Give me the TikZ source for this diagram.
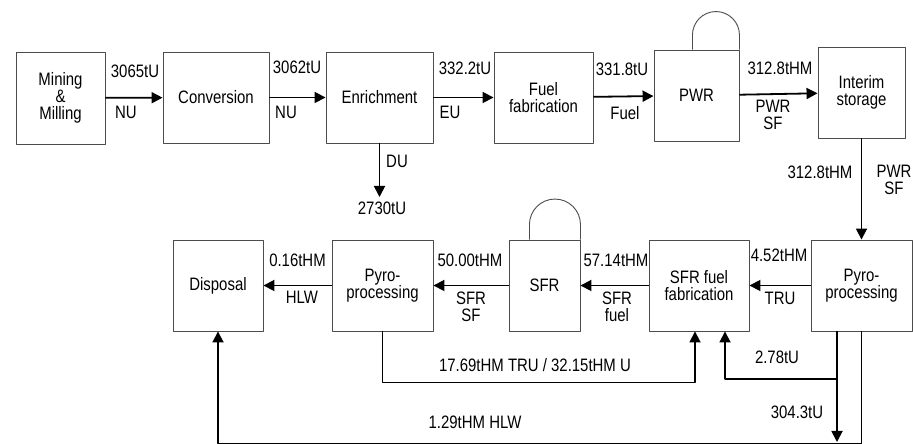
\documentclass[tikz,border=0pt]{standalone}
\usepackage{fontspec}
\setmainfont{Liberation Sans}[FakeStretch=0.83]
\usetikzlibrary{arrows.meta}

\tikzset{
  box/.style={draw=black!70,line width=0.9bp,inner sep=0pt,align=center},
  flow/.style={black,line width=1.8bp,-{Triangle[length=11bp,width=11bp]}},
  lbl/.style={draw=none,inner sep=0pt,align=center},
}

\begin{document}
\begin{tikzpicture}[line join=bevel,font=\fontsize{18bp}{17bp}\selectfont]
\useasboundingbox (0bp,0bp) rectangle (913bp,444bp);
%% front end
\node (node_mining) at (60.5bp,346bp) [box,minimum width=89bp,minimum height=92bp] {Mining\\\&\\Milling};
  \node (node_conv) at (216bp,346.5bp) [box,minimum width=106bp,minimum height=91bp] {Conversion};
  \node (node_enrich) at (379.5bp,346.5bp) [box,minimum width=107bp,minimum height=91bp] {Enrichment};
  \node (node_fuelfab) at (543.5bp,346.5bp) [box,minimum width=99bp,minimum height=91bp] {Fuel\\fabrication};
  \node (node_pwr) at (696.5bp,348.5bp) [box,minimum width=85bp,minimum height=91bp] {PWR};
  \node (node_interim) at (861.5bp,351.5bp) [box,minimum width=87bp,minimum height=91bp] {Interim\\storage};
%% back end
\node (node_disposal) at (218bp,158.5bp) [box,minimum width=90bp,minimum height=91bp] {Disposal};
  \node (node_pyroL) at (382.5bp,158.5bp) [box,minimum width=101bp,minimum height=91bp] {Pyro-\\processing};
  \node (node_sfr) at (544.5bp,158.5bp) [box,minimum width=71bp,minimum height=91bp] {SFR};
  \node (node_sfrfab) at (699bp,158.5bp) [box,minimum width=100bp,minimum height=91bp] {SFR fuel\\fabrication};
  \node (node_pyroR) at (861.5bp,158.5bp) [box,minimum width=101bp,minimum height=91bp] {Pyro-\\processing};
%% reactor loops
\draw [box] ([xshift=-47bp]node_pwr.north east) -- ++(0,14.5bp) arc [start angle=180,end angle=0,radius=23.5bp] -- (node_pwr.north east);
  \draw [box] ([xshift=-51bp]node_sfr.north east) -- ++(0,15bp) arc [start angle=180,end angle=0,radius=25.5bp] -- (node_sfr.north east);
%% free ends
\coordinate (du_end) at (379.5bp,247bp);
  \coordinate (tu_end) at (837bp,2bp);
  \coordinate (tu_branch) at (837bp,65bp);
%% flows
\draw [flow] (node_mining) -- (node_conv);
  \draw [flow] (node_conv) -- (node_enrich);
  \draw [flow] (node_enrich) -- (node_fuelfab);
  \draw [flow] (node_fuelfab) -- (node_pwr);
  \draw [flow] (node_pwr) -- (node_interim);
  \draw [flow] (node_enrich) -- (du_end);
  \draw [flow] (node_interim) -- (node_pyroR);
  \draw [flow] (node_pyroR) -- (node_sfrfab);
  \draw [flow] (node_sfrfab) -- (node_sfr);
  \draw [flow] (node_sfr) -- (node_pyroL);
  \draw [flow] (node_pyroL) -- (node_disposal);
  \draw [flow] (node_pyroL.south) -- ++(0,-51bp) -| ([xshift=-4bp]node_sfrfab.south);
  \draw [flow] ([xshift=-24.5bp]node_pyroR.south) -- (tu_end);
  \draw [flow] (tu_branch) -| ([xshift=26bp]node_sfrfab.south);
  \draw [flow] (node_pyroR.south) -- ++(0,-112bp) -| (node_disposal.south);
%% labels
\node (lbl_a1) at (135bp,373bp) [lbl] {3065tU};
  \node (lbl_a2) at (126bp,332bp) [lbl] {NU};
  \node (lbl_b1) at (297bp,377bp) [lbl] {3062tU};
  \node (lbl_b2) at (286bp,332bp) [lbl] {NU};
  \node (lbl_c1) at (465bp,376bp) [lbl] {332.2tU};
  \node (lbl_c2) at (450bp,332bp) [lbl] {EU};
  \node (lbl_d1) at (622bp,375bp) [lbl] {331.8tU};
  \node (lbl_d2) at (625bp,331bp) [lbl] {Fuel};
  \node (lbl_e1) at (780bp,376bp) [lbl] {312.8tHM};
  \node (lbl_e2) at (773bp,329.5bp) [lbl] {PWR\\SF};
  \node (lbl_du1) at (397bp,283bp) [lbl] {DU};
  \node (lbl_du2) at (382bp,236bp) [lbl] {2730tU};
  \node (lbl_f1) at (820bp,272bp) [lbl] {312.8tHM};
  \node (lbl_f2) at (894bp,264.5bp) [lbl] {PWR\\SF};
  \node (lbl_g1) at (779bp,189bp) [lbl] {4.52tHM};
  \node (lbl_g2) at (780bp,146bp) [lbl] {TRU};
  \node (lbl_h1) at (616bp,184bp) [lbl] {57.14tHM};
  \node (lbl_h2) at (617bp,137.5bp) [lbl] {SFR\\fuel};
  \node (lbl_i1) at (470bp,184bp) [lbl] {50.00tHM};
  \node (lbl_i2) at (471bp,137.5bp) [lbl] {SFR\\SF};
  \node (lbl_j1) at (297.5bp,184bp) [lbl] {0.16tHM};
  \node (lbl_j2) at (302bp,147bp) [lbl] {HLW};
  \node (lbl_k) at (535bp,79bp) [lbl] {17.69tHM TRU / 32.15tHM U};
  \node (lbl_l) at (475bp,22bp) [lbl] {1.29tHM HLW};
  \node (lbl_m1) at (777bp,87bp) [lbl] {2.78tU};
  \node (lbl_m2) at (797bp,32bp) [lbl] {304.3tU};
%
\end{tikzpicture}
\end{document}
